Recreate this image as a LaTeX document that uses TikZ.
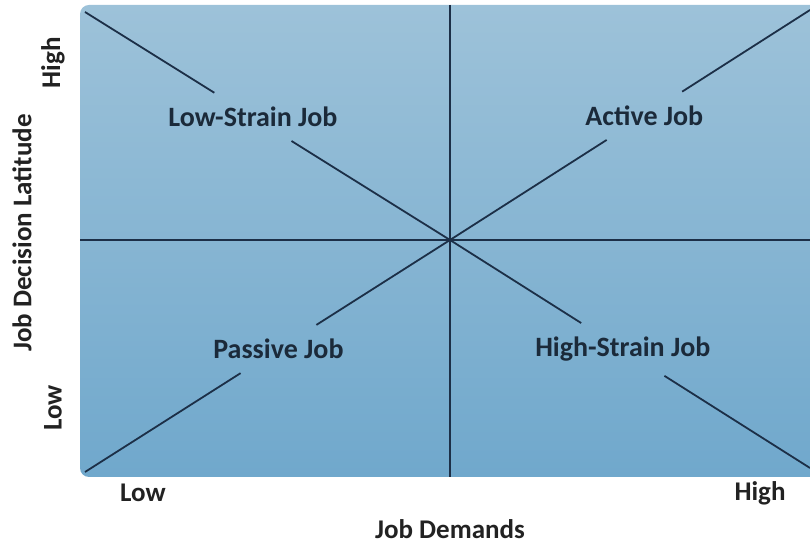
\documentclass[tikz,border=0pt]{standalone}
\usepackage{fontspec}
\setmainfont{Carlito}
\usepackage{tikz}
\definecolor{paneltop}{HTML}{9DC2D9}
\definecolor{panelbottom}{HTML}{70A8CC}
\definecolor{gridline}{HTML}{1C2F47}
\definecolor{quadtext}{HTML}{1B2A3A}
\definecolor{darkgray}{HTML}{222222}
\tikzset{
  quadrant/.style={
    font=\fontsize{28}{32}\selectfont\bfseries, text=quadtext,
    inner xsep=6pt, inner ysep=14pt,
  },
  axislabel/.style={font=\fontsize{27}{31}\selectfont\bfseries, text=darkgray},
  divider/.style={draw=gridline, line width=2pt},
  diagonal/.style={draw=gridline, line width=1.8pt},
}

\begin{document}
\begin{tikzpicture}[x=1pt, y=1pt]

  \clip (0,0) rectangle (810,545);

  % panel
  \shade[top color=paneltop, bottom color=panelbottom, rounded corners=9pt]
    (80,68) rectangle (830,540);

  \coordinate (c) at (450,305);
  \coordinate (ptop) at (450,540);
  \coordinate (pbottom) at (450,68);
  \coordinate (pleft) at (80,305);
  \coordinate (pright) at (810,305);
  \coordinate (tl) at (85,533);
  \coordinate (tr) at (810,535);
  \coordinate (bl) at (85,73);
  \coordinate (br) at (810,77);

  \path (tl) -- node[quadrant, pos=0.46] (lowstrain) {Low-Strain Job} (c);
  \path (c) -- node[quadrant, pos=0.54] (active) {Active Job} (tr);
  \path (bl) -- node[quadrant, pos=0.53] (passive) {Passive Job} (c);
  \path (c) -- node[quadrant, pos=0.48] (highstrain) {High-Strain Job} (br);

  \draw[divider] (ptop) -- (pbottom);
  \draw[divider] (pleft) -- (pright);

  \draw[diagonal] (tl) -- (lowstrain);
  \draw[diagonal] (lowstrain) -- (c);
  \draw[diagonal] (c) -- (highstrain);
  \draw[diagonal] (highstrain) -- (br);
  \draw[diagonal] (bl) -- (passive);
  \draw[diagonal] (passive) -- (c);
  \draw[diagonal] (c) -- (active);
  \draw[diagonal] (active) -- (tr);

  % axes
  \node[axislabel, rotate=90] (yhigh) at (53,482) {High};
  \node[axislabel, rotate=90] (ylow) at (53,137) {Low};
  \node[axislabel, rotate=90] (ytitle) at (22,312) {Job Decision Latitude};
  \node[axislabel] (xlow) at (143,52) {Low};
  \node[axislabel] (xhigh) at (760,52) {High};
  \node[axislabel] (xtitle) at (450,16) {Job Demands};

\end{tikzpicture}
\end{document}
